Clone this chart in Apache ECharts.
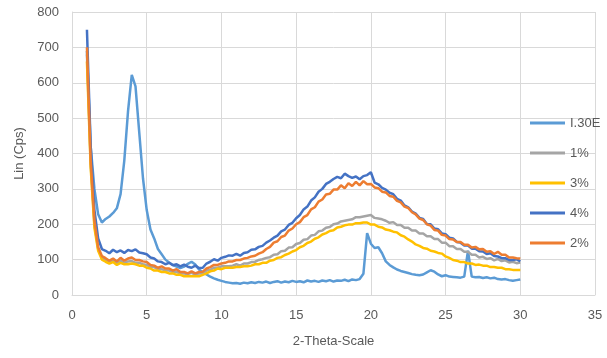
<!DOCTYPE html>
<html>
<head>
<meta charset="utf-8">
<script src="https://cdn.jsdelivr.net/npm/echarts@6/dist/echarts.min.js"></script>
<style>html,body{margin:0;padding:0;background:#fff}#c{width:607px;height:358px}</style>
</head>
<body>
<div id="c"></div>
<script>
const theta = [1,1.25,1.5,1.75,2,2.25,2.5,2.75,3,3.25,3.5,3.75,4,4.25,4.5,4.75,5,5.25,5.5,5.75,6,6.25,6.5,6.75,7,7.25,7.5,7.75,8,8.25,8.5,8.75,9,9.25,9.5,9.75,10,10.25,10.5,10.75,11,11.25,11.5,11.75,12,12.25,12.5,12.75,13,13.25,13.5,13.75,14,14.25,14.5,14.75,15,15.25,15.5,15.75,16,16.25,16.5,16.75,17,17.25,17.5,17.75,18,18.25,18.5,18.75,19,19.25,19.5,19.75,20,20.25,20.5,20.75,21,21.25,21.5,21.75,22,22.25,22.5,22.75,23,23.25,23.5,23.75,24,24.25,24.5,24.75,25,25.25,25.5,25.75,26,26.25,26.5,26.75,27,27.25,27.5,27.75,28,28.25,28.5,28.75,29,29.25,29.5,29.75,30];

const seriesNames = ['I.30E','1%','3%','4%','2%'];

const i30e = [
690,420,300,228,205,215,222,232,245,285,
380,520,622,590,460,330,240,185,160,130,
115,100,92,85,80,76,80,88,94,86,
72,64,58,52,47,43,40,37,35,33,
34,32,35,33,36,34,37,35,38,34,
37,39,35,38,36,40,37,39,36,41,
38,40,37,41,39,42,38,41,40,43,
39,44,42,45,60,175,145,133,135,118,
95,85,78,72,68,65,62,59,57,56,
58,64,70,66,58,53,56,52,51,50,
49,52,125,52,50,51,48,50,47,49,
45,44,45,42,40,42,44];

const p1 = [
680,370,200,130,105,98,93,97,89,97,
91,95,96,91,91,87,85,79,79,73,
73,69,69,65,65,61,61,59,63,57,
61,61,69,71,77,77,81,81,81,83,
87,83,89,89,93,94,99,101,105,107,
114,115,124,125,134,135,144,147,156,158,
168,170,180,182,190,192,200,202,208,210,
212,214,220,220,222,224,226,218,216,214,
210,204,206,198,198,190,190,182,182,174,
174,166,166,158,158,148,148,138,138,130,
130,122,122,114,114,106,108,102,104,98,
102,96,98,92,94,90,92];

const p3 = [
660,360,190,125,100,94,89,93,85,91,
87,87,89,87,83,83,77,75,69,69,
65,65,61,61,57,57,53,53,53,53,
53,57,61,67,69,75,73,77,77,77,
79,79,81,81,83,87,87,91,91,97,
99,105,107,113,117,123,127,135,139,147,
151,159,163,171,175,181,183,191,193,197,
199,199,203,203,205,205,199,199,193,191,
185,183,179,177,169,165,157,151,143,139,
133,131,125,123,119,117,109,105,99,97,
93,93,89,89,85,86,83,83,79,79,
77,77,73,73,71,71,71];

const p4 = [
750,420,240,160,130,125,118,128,121,126,
119,127,124,129,120,118,115,106,103,95,
93,87,91,84,87,81,86,80,77,83,
76,77,89,94,101,97,105,108,112,111,
116,111,119,121,128,129,136,139,148,154,
162,168,180,185,198,204,217,226,242,250,
267,276,292,300,314,320,328,334,330,343,
336,331,335,327,336,339,347,318,313,303,
298,289,285,272,267,253,248,236,230,218,
215,201,200,188,186,174,172,162,160,150,
148,140,140,131,131,124,123,116,118,110,
109,104,104,99,99,101,95];

const p2 = [
700,380,210,135,110,104,97,103,95,105,
97,103,106,99,99,95,93,85,83,77,
81,75,75,69,73,65,65,61,67,61,
65,66,75,79,85,85,89,91,95,95,
99,99,103,105,109,111,117,121,130,136,
148,152,164,168,182,188,200,206,220,226,
242,248,264,270,284,286,298,298,310,302,
316,308,320,310,322,313,314,304,302,292,
290,280,278,266,262,250,246,234,228,216,
212,200,196,184,182,170,168,158,157,150,
150,142,142,134,136,129,130,122,124,116,
122,114,114,106,106,104,103];

const seriesValues = [i30e, p1, p3, p4, p2];
const colors = ['#5B9BD5','#A5A5A5','#FFC000','#4472C4','#ED7D31'];

const chart = echarts.init(document.getElementById('c'));
const font = 'Liberation Sans';
chart.setOption({
  animation: false,
  backgroundColor: '#fff',
  color: colors,
  grid: {left: 72, right: 12, top: 12, bottom: 63},
  legend: {
    orient: 'vertical',
    left: 525, top: 111,
    itemGap: 16,
    itemWidth: 35, itemHeight: 3,
    icon: 'rect',
    textStyle: {color: '#595959', fontSize: 13, lineHeight: 14, fontFamily: font},
    data: seriesNames
  },
  xAxis: {
    type: 'value', min: 0, max: 35, interval: 5,
    name: '2-Theta-Scale', nameLocation: 'middle', nameGap: 40,
    nameTextStyle: {color: '#595959', fontSize: 13, fontFamily: font},
    axisLine: {show: true, lineStyle: {color: '#D9D9D9'}},
    axisTick: {show: false},
    axisLabel: {color: '#595959', fontSize: 13, fontFamily: font, margin: 14},
    splitLine: {show: true, lineStyle: {color: '#D9D9D9'}}
  },
  yAxis: {
    type: 'value', min: 0, max: 800, interval: 100,
    name: 'Lin (Cps)', nameLocation: 'middle', nameGap: 46,
    nameTextStyle: {color: '#595959', fontSize: 13, fontFamily: font},
    axisLine: {show: true, lineStyle: {color: '#D9D9D9'}},
    axisTick: {show: false},
    axisLabel: {color: '#595959', fontSize: 13, fontFamily: font, margin: 13},
    splitLine: {show: true, lineStyle: {color: '#D9D9D9'}}
  },
  series: seriesNames.map((n, i) => ({
    name: n, type: 'line', symbol: 'none',
    lineStyle: {width: 2.5, color: colors[i]},
    itemStyle: {color: colors[i]},
    data: theta.map((t, j) => [t, seriesValues[i][j]])
  }))
});
</script>
</body>
</html>
